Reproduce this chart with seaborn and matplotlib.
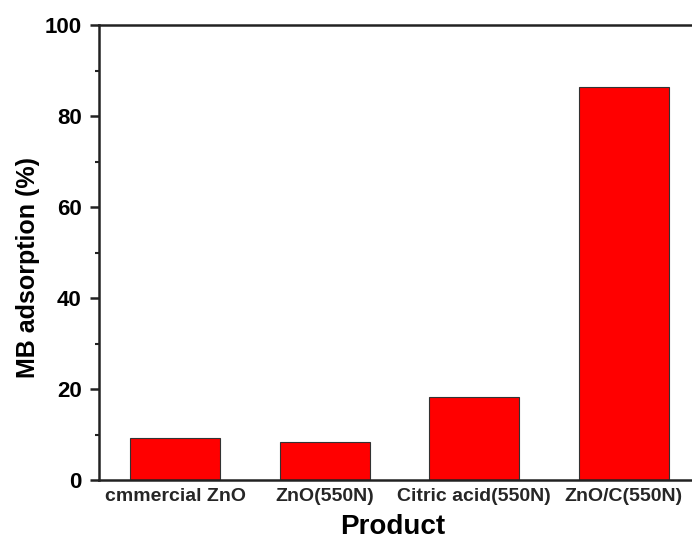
import matplotlib
matplotlib.use("Agg")
import matplotlib.pyplot as plt
from matplotlib.ticker import MultipleLocator
import seaborn as sns
import pandas as pd

products = ["cmmercial ZnO", "ZnO(550N)", "Citric acid(550N)", "ZnO/C(550N)"]
adsorption = [9.2, 8.4, 18.2, 86.4]

sns.set_theme(style="white")
plt.rcParams["font.family"] = ["Liberation Sans", "DejaVu Sans"]
plt.rcParams["font.weight"] = "bold"

df = pd.DataFrame({"Product": products, "MB adsorption (%)": adsorption})

fig = plt.figure(figsize=(6.92, 5.39), dpi=100)
W, H = 692, 539
ax = fig.add_axes([99 / W, (H - 480) / H, (700 - 99) / W, (480 - 25) / H])

sns.barplot(data=df, x="Product", y="MB adsorption (%)", color="#ff0000",
            saturation=1, width=0.6, edgecolor="#333333", linewidth=0.8, ax=ax)

ax.set_xlim(-0.51, 3.51)
ax.set_ylim(0, 100)
ax.yaxis.set_major_locator(MultipleLocator(20))
ax.yaxis.set_minor_locator(MultipleLocator(10))

for s in ax.spines.values():
    s.set_linewidth(1.8)
    s.set_color("#222222")

ax.tick_params(axis="y", which="major", direction="out", length=6.5, width=1.8,
               labelsize=16, pad=6, left=True, colors="#222222", labelcolor="black")
ax.tick_params(axis="y", which="minor", direction="out", length=3, width=1.5,
               left=True, colors="#222222")
ax.tick_params(axis="x", length=0, labelsize=14, pad=6)
for lbl in ax.get_xticklabels() + ax.get_yticklabels():
    lbl.set_fontweight("bold")

ax.set_xlabel("Product", fontsize=20, fontweight="bold", color="black")
ax.set_ylabel("MB adsorption (%)", fontsize=18, fontweight="bold", color="black")
ax.xaxis.set_label_coords(0.489, -0.075)
ax.yaxis.set_label_coords(-0.098, 0.466)

fig.savefig("out.png", dpi=100)
